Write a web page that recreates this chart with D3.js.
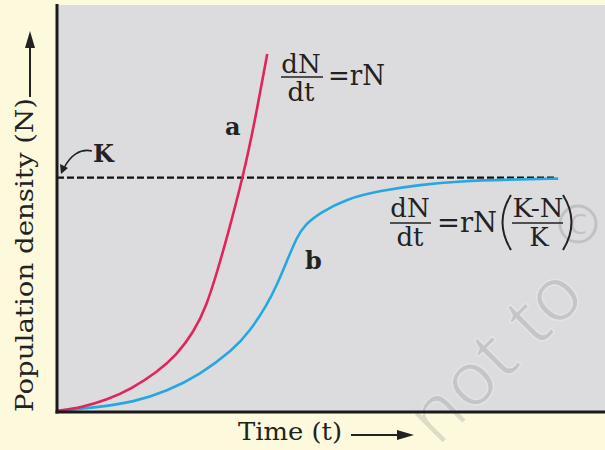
<!DOCTYPE html>
<html lang="en">
  <head>
    <meta charset="UTF-8">
    <title>Population growth</title>
    <style>
      body { margin: 0; background: #fdf9dc; }
      text { font-family: "DejaVu Serif", serif; fill: #222; }
    </style>
  </head>
  <body>
    <div id="chart"></div>
    <script src="https://d3js.org/d3.v7.min.js"></script>
    <script>
      // exponential curve (a)
      let timeA = [0, 0.5, 1, 1.5, 2, 2.4, 2.75, 3, 3.22, 3.42, 3.73, 3.97, 4.22];
      let densityA = [0, 1.6, 4.7, 9.6, 16.5, 24, 34, 45, 60, 75, 100, 124, 153];
      // logistic curve (b)
      let timeB = [0, 0.86, 1.53, 2.21, 2.87, 3.53, 3.87, 4.22, 4.42, 4.62, 4.82, 4.98, 5.28, 5.82, 6.48, 7.29, 8.09, 9.09, 10.06];
      let densityB = [0, 1.7, 3.8, 8.5, 15.6, 26.1, 34.1, 45.7, 54.3, 64.5, 74.8, 79.9, 85, 91, 94.4, 97, 98.5, 99.2, 99.6];
      // carrying capacity
      let carryingK = 100;
      let kSpan = [0, 10];

      let width = 605;
      let height = 450;
      let plotLeft = 57, plotTop = 5, plotBottom = 412;

      let svg = d3.select("#chart").append("svg").attr("width", width).attr("height", height)
        .style("display", "block");

      let x = d3.scaleLinear().domain([0, 11]).range([plotLeft, width]);
      let y = d3.scaleLinear().domain([0, 174]).range([411, plotTop]);

      svg.append("rect").attr("width", width).attr("height", height).attr("fill", "#fdf9dc");
      svg.append("rect").attr("x", plotLeft).attr("y", plotTop).attr("width", width - plotLeft).attr("height", plotBottom - plotTop)
        .attr("fill", "#dcdcde");

      // watermark
      let wm = svg.append("g").attr("opacity", 0.22);
      wm.append("text").attr("transform", "translate(438,448) rotate(-45)")
        .style("font-family", "Open Sans").style("font-size", "76px")
        .style("fill", "#777").style("stroke", "#fff").style("stroke-width", 1.5)
        .text("not to");
      wm.append("circle").attr("cx", 578).attr("cy", 224).attr("r", 18)
        .attr("fill", "none").attr("stroke", "#666").attr("stroke-width", 3);
      wm.append("text").attr("x", 578).attr("y", 234).attr("text-anchor", "middle")
        .style("font-family", "Open Sans").style("font-size", "28px").style("fill", "#666").text("C");

      // K line
      svg.append("line")
        .attr("x1", x(kSpan[0])).attr("x2", x(kSpan[1]))
        .attr("y1", y(carryingK)).attr("y2", y(carryingK))
        .attr("stroke", "#111").attr("stroke-width", 2.2).attr("stroke-dasharray", "7,3");

      let line = d3.line().x(d => x(d[0])).y(d => y(d[1])).curve(d3.curveBasis);

      svg.append("path")
        .attr("d", line(d3.zip(timeB, densityB)))
        .attr("fill", "none").attr("stroke", "#27a7e0").attr("stroke-width", 2.6);
      svg.append("path")
        .attr("d", line(d3.zip(timeA, densityA)))
        .attr("fill", "none").attr("stroke", "#e1245c").attr("stroke-width", 2.6);

      // axes
      svg.append("line").attr("x1", plotLeft).attr("x2", plotLeft).attr("y1", 4).attr("y2", plotBottom + 1.5)
        .attr("stroke", "#1a1a1a").attr("stroke-width", 3);
      svg.append("line").attr("x1", plotLeft - 1.5).attr("x2", width).attr("y1", plotBottom).attr("y2", plotBottom)
        .attr("stroke", "#1a1a1a").attr("stroke-width", 3);

      // axis titles with arrows
      svg.append("text").attr("transform", "translate(33,412) rotate(-90)")
        .style("font-size", "25px").attr("textLength", 314).attr("lengthAdjust", "spacingAndGlyphs")
        .text("Population density (N)");
      svg.append("line").attr("x1", 30).attr("x2", 30).attr("y1", 97).attr("y2", 46)
        .attr("stroke", "#222").attr("stroke-width", 2);
      svg.append("path").attr("d", "M30,31 L25,48 L35,48 Z").attr("fill", "#222");

      svg.append("text").attr("x", 238).attr("y", 440)
        .style("font-size", "25px").attr("textLength", 104).attr("lengthAdjust", "spacingAndGlyphs")
        .text("Time (t)");
      svg.append("line").attr("x1", 351).attr("x2", 400).attr("y1", 435).attr("y2", 435)
        .attr("stroke", "#222").attr("stroke-width", 2);
      svg.append("path").attr("d", "M414,435 L397,430 L397,440 Z").attr("fill", "#222");

      // curve labels
      svg.append("text").attr("x", 225).attr("y", 135).style("font-size", "24px").style("font-weight", "bold").text("a");
      svg.append("text").attr("x", 305).attr("y", 269).style("font-size", "24px").style("font-weight", "bold").text("b");
      svg.append("text").attr("x", 93).attr("y", 162).style("font-size", "24px").style("font-weight", "bold").text("K");
      svg.append("path").attr("d", "M92,151 C80,148 70,156 64,168").attr("fill", "none")
        .attr("stroke", "#222").attr("stroke-width", 1.6);
      svg.append("path").attr("d", "M61,174 L60,164 L68,168 Z").attr("fill", "#222");

      // equation 1
      let eq1 = svg.append("g").style("font-size", "26px");
      eq1.append("text").attr("x", 301).attr("y", 73).attr("text-anchor", "middle").text("dN");
      eq1.append("line").attr("x1", 281).attr("x2", 323).attr("y1", 77).attr("y2", 77).attr("stroke", "#222").attr("stroke-width", 1.5);
      eq1.append("text").attr("x", 301).attr("y", 101).attr("text-anchor", "middle").text("dt");
      eq1.append("text").attr("x", 328).attr("y", 85).style("font-size", "28px")
        .attr("textLength", 57).attr("lengthAdjust", "spacingAndGlyphs").text("=rN");

      // equation 2
      let eq2 = svg.append("g").style("font-size", "26px");
      eq2.append("text").attr("x", 410).attr("y", 217).attr("text-anchor", "middle").text("dN");
      eq2.append("line").attr("x1", 390).attr("x2", 431).attr("y1", 223).attr("y2", 223).attr("stroke", "#222").attr("stroke-width", 1.5);
      eq2.append("text").attr("x", 410).attr("y", 246).attr("text-anchor", "middle").text("dt");
      eq2.append("text").attr("x", 437).attr("y", 232).style("font-size", "28px")
        .attr("textLength", 60).attr("lengthAdjust", "spacingAndGlyphs").text("=rN");
      eq2.append("path").attr("d", "M511,195 Q494,222 511,250").attr("fill", "none").attr("stroke", "#222").attr("stroke-width", 2);
      eq2.append("text").attr("x", 538).attr("y", 217).attr("text-anchor", "middle")
        .attr("textLength", 51).attr("lengthAdjust", "spacingAndGlyphs").text("K-N");
      eq2.append("line").attr("x1", 512).attr("x2", 563).attr("y1", 223).attr("y2", 223).attr("stroke", "#222").attr("stroke-width", 1.5);
      eq2.append("text").attr("x", 539).attr("y", 246).attr("text-anchor", "middle").text("K");
      eq2.append("path").attr("d", "M563,195 Q580,222 563,250").attr("fill", "none").attr("stroke", "#222").attr("stroke-width", 2);
    </script>
  </body>
</html>
